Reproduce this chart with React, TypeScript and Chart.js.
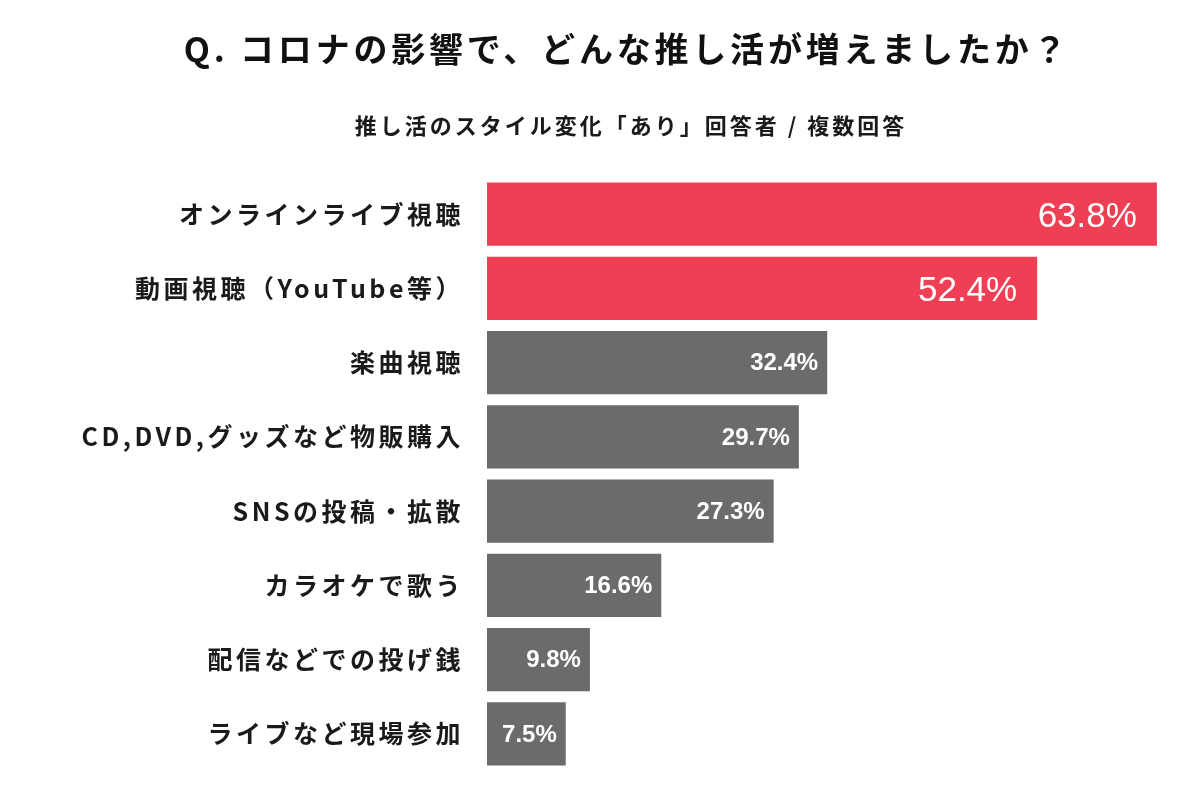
import React, { useEffect, useRef } from "react";
import { Chart, registerables } from "chart.js";

Chart.register(...registerables);

const TITLE = "Q. コロナの影響で、どんな推し活が増えましたか？";
const SUBTITLE = "推し活のスタイル変化「あり」回答者 / 複数回答";

const categories = [
  "オンラインライブ視聴",
  "動画視聴（YouTube等）",
  "楽曲視聴",
  "CD,DVD,グッズなど物販購入",
  "SNSの投稿・拡散",
  "カラオケで歌う",
  "配信などでの投げ銭",
  "ライブなど現場参加",
];

const values = [63.8, 52.4, 32.4, 29.7, 27.3, 16.6, 9.8, 7.5];

// highlighted = top answers drawn in red
const highlighted = [true, true, false, false, false, false, false, false];

const RED = "#EE3F55";
const GRAY = "#6B6B6B";

const JP_FONT = '"Noto Sans CJK JP", "Noto Sans", sans-serif';
const NUM_FONT = '"Liberation Sans", Arial, sans-serif';

export default function App() {
  const canvasRef = useRef<HTMLCanvasElement | null>(null);

  useEffect(() => {
    const canvas = canvasRef.current;
    if (!canvas) return;

    const spacingPlugin = {
      id: "tickSpacing",
      beforeDraw(chart: any) {
        (chart.ctx as any).letterSpacing = "3.5px";
      },
      afterDraw(chart: any) {
        (chart.ctx as any).letterSpacing = "0px";
      },
    };

    const valueLabels = {
      id: "valueLabels",
      afterDatasetsDraw(chart: any) {
        const ctx = chart.ctx;
        const meta = chart.getDatasetMeta(0);
        ctx.save();
        (ctx as any).letterSpacing = "0px";
        ctx.fillStyle = "#ffffff";
        ctx.textAlign = "right";
        ctx.textBaseline = "middle";
        meta.data.forEach((bar: any, i: number) => {
          const big = highlighted[i];
          ctx.font = big ? `400 35px ${NUM_FONT}` : `700 24px ${NUM_FONT}`;
          const pad = big ? 20 : 9;
          ctx.fillText(values[i].toFixed(1) + "%", bar.x - pad, bar.y + (big ? 3 : 1));
        });
        ctx.restore();
      },
    };

    const titles = {
      id: "titles",
      afterDraw(chart: any) {
        const ctx = chart.ctx;
        ctx.save();
        ctx.textAlign = "center";
        ctx.textBaseline = "middle";
        ctx.fillStyle = "#111111";
        (ctx as any).letterSpacing = "3.8px";
        ctx.font = `700 34px ${JP_FONT}`;
        ctx.fillText(TITLE, 627, 49);
        (ctx as any).letterSpacing = "3px";
        ctx.font = `700 22px ${JP_FONT}`;
        ctx.fillStyle = "#1a1a1a";
        ctx.fillText(SUBTITLE, 631, 126);
        ctx.restore();
      },
    };

    const chart = new Chart(canvas, {
      type: "bar",
      data: {
        labels: categories,
        datasets: [
          {
            data: values,
            backgroundColor: highlighted.map((h) => (h ? RED : GRAY)),
            borderWidth: 0,
            categoryPercentage: 0.85,
            barPercentage: 1,
          },
        ],
      },
      options: {
        indexAxis: "y",
        animation: false,
        responsive: false,
        maintainAspectRatio: false,
        layout: { padding: { top: 177, bottom: 15, right: 20, left: 0 } },
        plugins: {
          legend: { display: false },
          tooltip: { enabled: false },
          title: { display: false },
        },
        scales: {
          x: {
            display: false,
            min: 0,
            max: 66,
            grid: { display: false },
          },
          y: {
            grid: { display: false, drawTicks: false },
            border: { display: false },
            ticks: {
              color: "#1a1a1a",
              padding: 23,
              font: { family: JP_FONT, size: 25, weight: "bold" },
            },
            afterFit(scale: any) {
              scale.width = 487;
              scale.paddingTop = 0;
              scale.paddingBottom = 0;
            },
          },
        },
      } as any,
      plugins: [spacingPlugin, valueLabels, titles],
    });

    return () => chart.destroy();
  }, []);

  return (
    <div style={{ position: "absolute", left: 0, top: 0, width: 1200, height: 786, background: "#fff" }}>
      <canvas ref={canvasRef} width={1200} height={786} />
    </div>
  );
}
